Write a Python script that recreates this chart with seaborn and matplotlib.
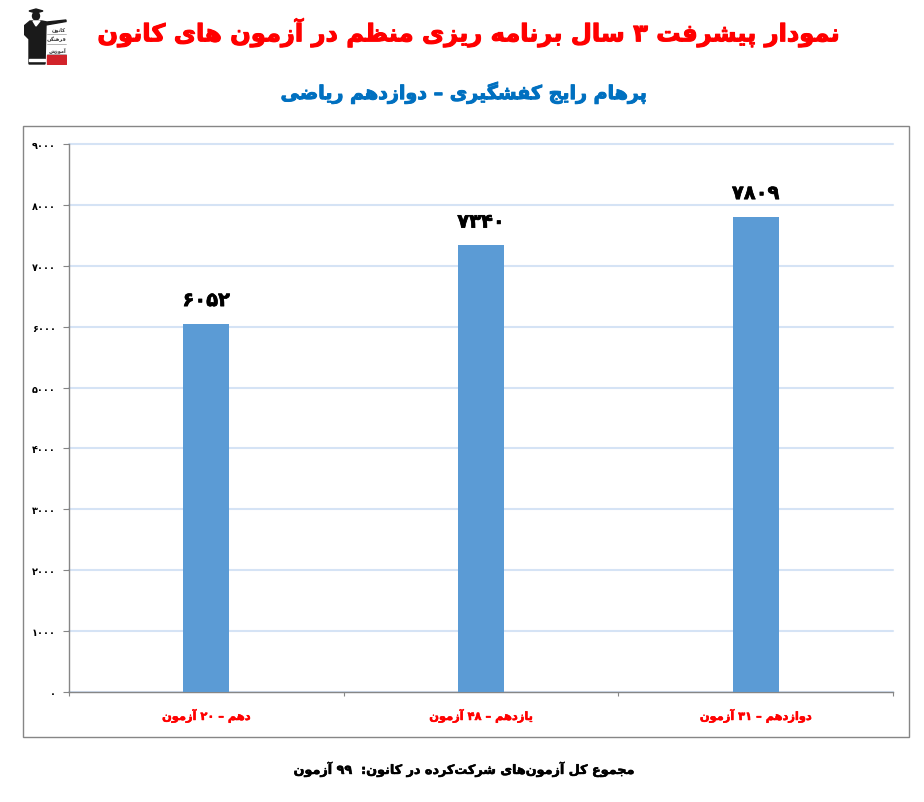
import re
import pandas as pd
import matplotlib
matplotlib.use("Agg")
import matplotlib.pyplot as plt
import matplotlib.patheffects as pe
import seaborn as sns
from matplotlib.patches import Rectangle, Polygon, Ellipse

# chart data
title = "نمودار پیشرفت ۳ سال برنامه ریزی منظم در آزمون های کانون"
subtitle = "پرهام رایج کفشگیری – دوازدهم ریاضی"
footer = "مجموع کل آزمون‌های شرکت‌کرده در کانون:  ۹۹ آزمون"
grades = ["دهم – ۲۰ آزمون", "یازدهم – ۴۸ آزمون", "دوازدهم – ۳۱ آزمون"]
scores = [6052, 7340, 7809]
y_ticks = [0, 1000, 2000, 3000, 4000, 5000, 6000, 7000, 8000, 9000]
logo_words = ["کانون", "فرهنگی", "آموزش"]

# isolated, final, initial, medial presentation forms
FORMS = {
    "ا": ("\uFE8D", "\uFE8E", None, None), "آ": ("\uFE81", "\uFE82", None, None),
    "ب": ("\uFE8F", "\uFE90", "\uFE91", "\uFE92"), "پ": ("\uFB56", "\uFB57", "\uFB58", "\uFB59"),
    "ت": ("\uFE95", "\uFE96", "\uFE97", "\uFE98"), "ج": ("\uFE9D", "\uFE9E", "\uFE9F", "\uFEA0"),
    "د": ("\uFEA9", "\uFEAA", None, None), "ر": ("\uFEAD", "\uFEAE", None, None),
    "ز": ("\uFEAF", "\uFEB0", None, None), "س": ("\uFEB1", "\uFEB2", "\uFEB3", "\uFEB4"),
    "ش": ("\uFEB5", "\uFEB6", "\uFEB7", "\uFEB8"), "ض": ("\uFEBD", "\uFEBE", "\uFEBF", "\uFEC0"),
    "ظ": ("\uFEC5", "\uFEC6", "\uFEC7", "\uFEC8"), "ع": ("\uFEC9", "\uFECA", "\uFECB", "\uFECC"),
    "ف": ("\uFED1", "\uFED2", "\uFED3", "\uFED4"), "ک": ("\uFB8E", "\uFB8F", "\uFB90", "\uFB91"),
    "گ": ("\uFB92", "\uFB93", "\uFB94", "\uFB95"), "ل": ("\uFEDD", "\uFEDE", "\uFEDF", "\uFEE0"),
    "م": ("\uFEE1", "\uFEE2", "\uFEE3", "\uFEE4"), "ن": ("\uFEE5", "\uFEE6", "\uFEE7", "\uFEE8"),
    "ه": ("\uFEE9", "\uFEEA", "\uFEEB", "\uFEEC"), "و": ("\uFEED", "\uFEEE", None, None),
    "ی": ("\uFBFC", "\uFBFD", "\uFBFE", "\uFBFF"),
}


def shape(text):
    # matplotlib does no Arabic shaping, so pick the joined forms and flip to visual order
    out = []
    for i, ch in enumerate(text):
        if ch == "\u200c":
            continue
        if ch not in FORMS:
            out.append(ch)
            continue
        prev = text[i - 1] if i > 0 else " "
        nxt = text[i + 1] if i + 1 < len(text) else " "
        joins_prev = prev in FORMS and FORMS[prev][2] is not None
        joins_next = nxt in FORMS and FORMS[ch][2] is not None
        iso, fin, ini, med = FORMS[ch]
        if joins_prev and joins_next:
            out.append(med)
        elif joins_prev:
            out.append(fin)
        elif joins_next:
            out.append(ini)
        else:
            out.append(iso)
    visual = "".join(out)[::-1]
    return re.sub("[۰-۹]+", lambda m: m.group(0)[::-1], visual)


def fa_num(n):
    return str(n).translate(str.maketrans("0123456789", "۰۱۲۳۴۵۶۷۸۹"))


def heavy(color, w):
    # the original font is much heavier than DejaVu Bold
    return [pe.withStroke(linewidth=w, foreground=color)]


sns.set_theme(style="white")
plt.rcParams["font.family"] = ["DejaVu Sans"]
plt.rcParams["font.weight"] = "bold"

W, H = 924, 803
fig = plt.figure(figsize=(W / 100, H / 100), dpi=100)
ax = fig.add_axes([69 / W, 1 - 693 / H, (893 - 69) / W, (693 - 145) / H])

df = pd.DataFrame({"grade": [shape(g) for g in grades], "score": scores})
sns.barplot(data=df, x="grade", y="score", color="#5B9BD5", saturation=1, width=0.167,
            linewidth=0, ax=ax, zorder=3)

ax.set_ylim(0, 9000)
ax.set_xlim(-0.5, 2.5)
ax.set_xlabel("")
ax.set_ylabel("")
ax.set_yticks(y_ticks)
ax.set_yticklabels([fa_num(v) for v in y_ticks], fontsize=7, color="black")
ax.yaxis.grid(True, color="#D5E3F5", linewidth=1.5, clip_on=False)
ax.set_axisbelow(True)
ax.tick_params(axis="y", length=4.3, width=0.8, color="#868686", left=True, pad=5)
ax.tick_params(axis="x", length=0, pad=12.5, labelsize=8.2, labelcolor="#FF0000")
ax.set_xticks([-0.5, 0.5, 1.5, 2.5], minor=True)
ax.tick_params(axis="x", which="minor", length=3, width=0.8, color="#868686", bottom=True)
sns.despine(ax=ax)
for side in ["left", "bottom"]:
    ax.spines[side].set_color("#868686")
    ax.spines[side].set_linewidth(1)
for lab in ax.get_xticklabels():
    lab.set_path_effects(heavy("#FF0000", 0.4))

for x, v in enumerate(scores):
    ax.annotate(fa_num(v), (x, v), xytext=(0, 16.5), textcoords="offset points", ha="center",
                va="center", fontsize=14, color="black", fontweight="bold",
                path_effects=heavy("black", 0.5))

# outer frame of the chart
fig.add_artist(Rectangle((23 / W, 1 - 738 / H), 886 / W, 611 / H, transform=fig.transFigure,
                         fill=False, edgecolor="#868686", linewidth=1))

fig.text(468 / W, 1 - 34 / H, shape(title), color="#FF0000", fontsize=17.4, ha="center", va="center",
         fontweight="bold", path_effects=heavy("#FF0000", 0.8))
fig.text(464 / W, 1 - 94 / H, shape(subtitle), color="#0070C0", fontsize=13.7, ha="center", va="center",
         fontweight="bold", path_effects=heavy("#0070C0", 0.7))
fig.text(464 / W, 1 - 770 / H, shape(footer), color="black", fontsize=9.2, ha="center", va="center",
         fontweight="bold", path_effects=heavy("black", 0.4))

# small logo, top left
logo = fig.add_axes([24 / W, 1 - 66 / H, 43 / W, 57 / H])
logo.set_xlim(24, 67)
logo.set_ylim(66, 9)
logo.axis("off")
logo.add_patch(Polygon([(29, 12), (36, 10), (43, 12), (36, 14)], color="#1a1a1a"))
logo.add_patch(Ellipse((36, 17), 7, 8, color="#1a1a1a"))
logo.add_patch(Polygon([(30, 22), (42, 22), (47, 23), (66, 21), (66, 22.5), (46, 26), (45, 65),
                        (29, 65), (29, 40), (24, 35), (24, 27)], color="#1a1a1a"))
logo.add_patch(Polygon([(33, 22), (36, 27), (40, 22)], color="white"))
logo.add_patch(Rectangle((29, 60), 16, 1.5, color="white"))
logo.add_patch(Rectangle((47, 56), 19, 9, color="#D2232A"))
for yy, word in zip([30, 40, 50], logo_words):
    logo.text(66, yy, shape(word), fontsize=3.6, ha="right", va="center", color="#333333")
    logo.plot([47, 66], [yy + 5, yy + 5], color="#999999", linewidth=0.5)

fig.savefig("out.png", dpi=100)
